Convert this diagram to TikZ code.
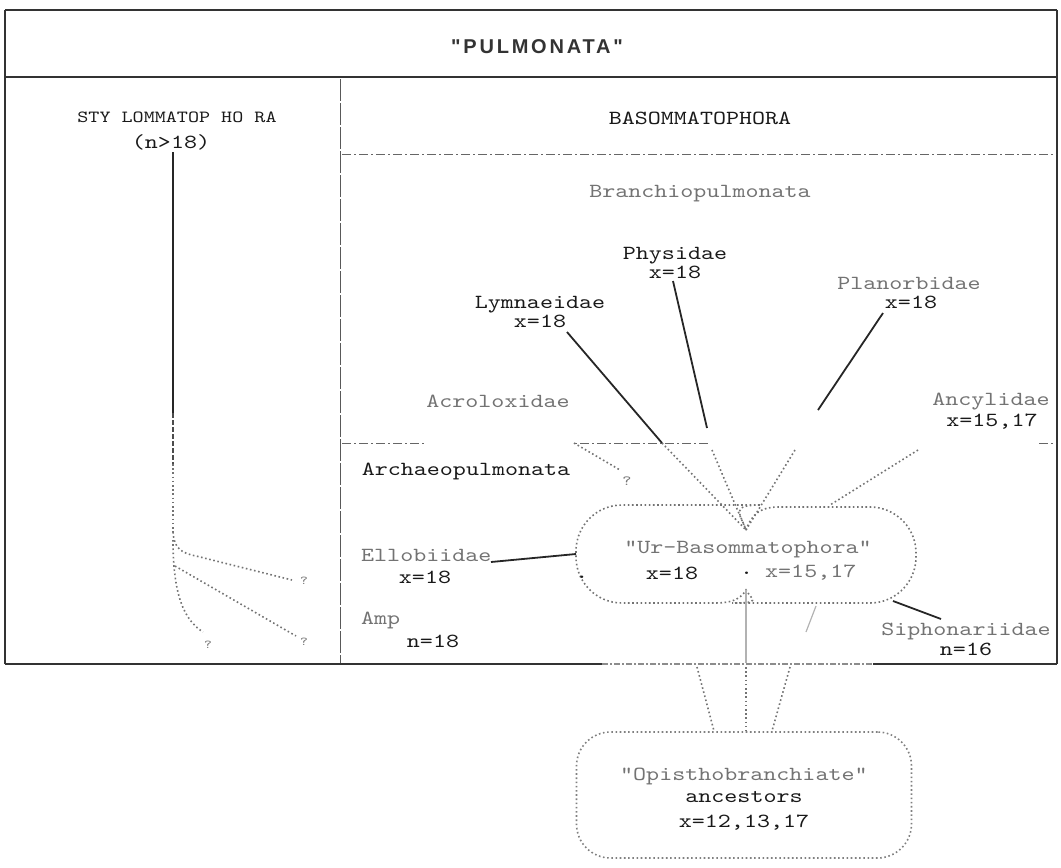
\documentclass[tikz,border=0pt]{standalone}
\usepackage{fontspec}
\newfontfamily\monof{lmmono10-regular.otf}[FakeStretch=1.24]
\newfontfamily\sansf[LetterSpace=14]{Liberation Sans}
\begin{document}
\begin{tikzpicture}[x=1pt,y=-1pt,
  lbl/.style={font=\monof\fontsize{20}{19.5}\selectfont, inner sep=0pt, align=center, text=black!90},
  glbl/.style={lbl, text=black!55},
  qm/.style={font=\monof\fontsize{12}{12}\selectfont, inner sep=0pt, text=black!55},
  frame/.style={line width=1.6pt, draw=black!80},
  divline/.style={line width=0.8pt, draw=black!65, dash pattern=on 22pt off 2pt},
  dashdot/.style={line width=1pt, draw=black!60, dash pattern=on 9pt off 3pt on 2pt off 3pt},
  solidcon/.style={line width=1.8pt, draw=black!85},
  dotcon/.style={line width=1.6pt, draw=black!55, dash pattern=on 1.6pt off 2.6pt},
  lightcon/.style={line width=1.2pt, draw=black!30},
  whitepatch/.style={fill=white, draw=none}]
\useasboundingbox (0,0) rectangle (1061,868);

% ---------- frame ----------
\draw[frame] (5,10) -- (1057,10);
\draw[frame] (5,664) -- (5,10);
\draw[frame] (1057,10) -- (1057,664);
\draw[frame] (5,664) -- (602,664);
\draw[frame] (873,664) -- (1057,664);
\draw[line width=1.4pt, draw=black!45, dash pattern=on 6pt off 2pt on 2pt off 2pt] (602,664) -- (873,664);
\draw[frame, line width=1.3pt] (5,77) -- (1057,77);
\draw[divline] (340,79) -- (340,663);
\draw[dashdot] (342,154) -- (1056,154);
\draw[dashdot] (342,443) -- (1056,443);

% ---------- coordinates ----------
\coordinate (notch) at (746,530);
\coordinate (notchb) at (746,590);
\coordinate (lymA) at (567,332);
\coordinate (lymB) at (662,443);
\coordinate (physA) at (673,281);
\coordinate (physB) at (707,428);
\coordinate (physC) at (712,450);
\coordinate (planA) at (883,313);
\coordinate (planB) at (818,410);
\coordinate (planC) at (795,450);
\coordinate (acroA) at (574,443);
\coordinate (acroB) at (620,470);
\coordinate (ancyA) at (918,450);
\coordinate (ancyB) at (830,505);
\coordinate (elloA) at (491,562);
\coordinate (urW) at (576,554);
\coordinate (siphA) at (893,601);
\coordinate (siphB) at (941,619);
\coordinate (stemTop) at (173,152);
\coordinate (stemM1) at (173,413);
\coordinate (stemM2) at (173,464);
\coordinate (stemBot) at (173,532);

% ---------- left (Stylommatophora) tree ----------
\draw[solidcon, line width=1.6pt] (stemTop) -- (stemM1);
\draw[line width=1.6pt, draw=black!70, dash pattern=on 5pt off 2pt] (stemM1) -- (stemM2);
\draw[dotcon] (stemM2) -- (stemBot);
\draw[dotcon] (stemBot) .. controls (174,548) and (181,553) .. (196,556) -- (292,580);
\draw[dotcon] (175,566) -- (296,636);
\draw[dotcon] (173,540) .. controls (173,595) and (184,620) .. (203,632);

% ---------- connectors to Ur-Basommatophora ----------
\draw[solidcon] (lymA) -- (lymB);
\draw[dotcon] (lymB) -- (notch);
\draw[solidcon] (physA) -- (physB);
\draw[dotcon] (physC) -- (notch);
\draw[solidcon] (planA) -- (planB);
\draw[dotcon] (planC) -- (notch);
\draw[dotcon] (acroA) -- (acroB);
\draw[dotcon] (ancyA) -- (ancyB);
\draw[solidcon] (elloA) -- (urW);
\draw[solidcon] (siphA) -- (siphB);

% ---------- Ur-Basommatophora blob ----------
\draw[dotcon] (notch) .. controls (752,513) and (762,507) .. (778,507)
  [rounded corners=46pt] -- (916,507) -- (916,603) -- (778,603)
  [sharp corners] .. controls (762,603) and (752,600) .. (notchb)
  .. controls (740,600) and (730,603) .. (715,603)
  [rounded corners=46pt] -- (576,603) -- (576,505) -- (715,505)
  [sharp corners] .. controls (730,505) and (740,513) .. (notch);

% ---------- connectors to Opisthobranchiate ----------
\node[draw=black!50, line width=1.6pt, dash pattern=on 1.6pt off 2.6pt,
      rounded corners=34pt, minimum width=335pt, minimum height=126pt,
      inner sep=0pt] (opi) at (744,795) {};
\draw[lightcon] (notchb) -- (746,663);
\draw[dotcon] (746,667) -- (opi.north -| notchb);
\draw[lightcon] (816,606) -- (806,632);
\draw[dotcon] (790,667) -- (772,731);
\draw[dotcon] (697,667) -- (714,731);

% ---------- white patches of the original ----------
\fill[whitepatch] (425,416) rectangle (572,460);
\fill[whitepatch] (709,411) rectangle (1038,448);
\fill[whitepatch] (355,457) rectangle (572,488);

% ---------- labels ----------
\node[font=\sansf\bfseries\fontsize{20}{20}\selectfont, inner sep=0pt, text=black!80] (pul) at (537,47) {"PULMONATA"};
\node[lbl, font=\monof\fontsize{17}{17}\selectfont] (sty) at (177,117) {STY LOMMATOP HO RA};
\node[lbl] (styn) at (171,142) {(n>18)};
\node[lbl] (baso) at (700,118) {BASOMMATOPHORA};
\node[glbl] (branch) at (700,194) {Branchiopulmonata};
\node[lbl] (phys) at (675,263) {Physidae\\x=18};
\node[lbl] (lym) at (540,312) {Lymnaeidae\\x=18};
\node[glbl] (plan) at (909,283) {Planorbidae};
\node[lbl] (planx) at (911,302) {x=18};
\node[glbl] (acro) at (498,401) {Acroloxidae};
\node[glbl] (ancy) at (991,402) {Ancylidae};
\node[lbl] (ancyx) at (992,422) {x=15,17};
\node[lbl] (archaeo) at (466,471) {Archaeopulmonata};
\node[glbl] (acroq) at (627,481) {\fontsize{14}{14}\selectfont ?};
\node[glbl, anchor=west] (ello) at (361,555) {Ellobiidae};
\node[lbl] (ellox) at (425,577) {x=18};
\node[glbl, anchor=west] (amp) at (361,620) {Amp};
\node[lbl] (ampn) at (433,641) {n=18};
\node[glbl] (sipho) at (966,631) {Siphonariidae};
\node[lbl] (siphon) at (966,649) {n=16};
\node[glbl] (urlbl) at (748,549) {"Ur-Basommatophora"};
\node[lbl] (urx1) at (672,573) {x=18};
\node[lbl] (urdot) at (582,577) {.};
\node[lbl, anchor=west] (urdot2) at (740,573) {.};
\node[glbl, anchor=west] (urx2) at (765,573) {x=15,17};
\node[glbl, anchor=west] (opilbl) at (620,776) {"Opisthobranchiate"};
\node[lbl] (opianc) at (744,797) {ancestors};
\node[lbl] (opix) at (744,823) {x=12,13,17};
\node[qm] (q1) at (304,581) {?};
\node[qm] (q2) at (304,642) {?};
\node[qm] (q3) at (208,645) {?};
\end{tikzpicture}
\end{document}
